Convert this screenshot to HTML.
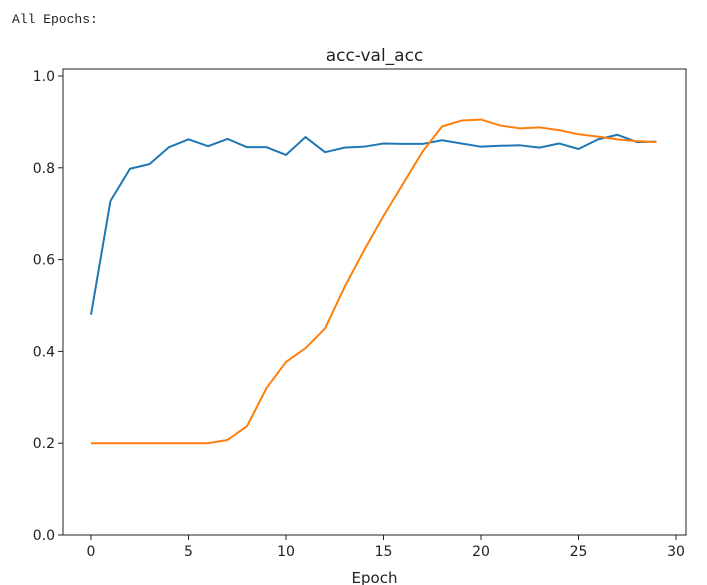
<!DOCTYPE html>
<html><head><meta charset="utf-8"><style>
html,body{margin:0;padding:0;background:#fff;width:707px;height:585px;overflow:hidden}
#hdr{position:absolute;left:12px;top:12px;font:13px "Liberation Mono",monospace;color:#222}
svg{position:absolute;left:0;top:0}
text{font-family:"DejaVu Sans","Liberation Sans",sans-serif;fill:#222}
</style></head><body>
<div id="hdr">All Epochs:</div>
<svg id="c" width="707" height="585"></svg>
<script>
const epochs=[0,1,2,3,4,5,6,7,8,9,10,11,12,13,14,15,16,17,18,19,20,21,22,23,24,25,26,27,28,29];
const accValues=[0.48,0.728,0.798,0.808,0.845,0.862,0.847,0.863,0.845,0.845,0.828,0.867,0.834,0.844,0.846,0.853,0.852,0.852,0.86,0.853,0.846,0.848,0.849,0.844,0.853,0.841,0.862,0.872,0.856,0.857];
const valAccValues=[0.2,0.2,0.2,0.2,0.2,0.2,0.2,0.207,0.237,0.32,0.377,0.407,0.45,0.54,0.62,0.695,0.765,0.835,0.89,0.903,0.905,0.892,0.886,0.888,0.882,0.873,0.868,0.862,0.858,0.856];
const xTicks=[0,5,10,15,20,25,30];
const yTicks=[0.0,0.2,0.4,0.6,0.8,1.0];
const NS="http://www.w3.org/2000/svg";
const svg=document.getElementById('c');
const L=63,R=686,T=69,B=535;
const X=v=>91+v*19.5;
const Y=v=>535-v*459;
function el(t,a){const e=document.createElementNS(NS,t);for(const k in a)e.setAttribute(k,a[k]);svg.appendChild(e);return e;}
let t=el('text',{x:(L+R)/2,y:61,'text-anchor':'middle','font-size':17});t.textContent='acc-val_acc';


xTicks.forEach(v=>{
 let l=el('line',{x1:X(v),x2:X(v),y1:B,y2:B+5,stroke:'#222','stroke-width':1});
 
 
 let tx=el('text',{x:X(v),y:B+21,'text-anchor':'middle','font-size':14});tx.textContent=v;
 
 
});
yTicks.forEach(v=>{
 let l=el('line',{x1:L-5,x2:L,y1:Y(v),y2:Y(v),stroke:'#222','stroke-width':1});
 
 
 let tx=el('text',{x:L-8,y:Y(v)+5,'text-anchor':'end','font-size':14});tx.textContent=v.toFixed(1);
 
 
});
let xl=el('text',{x:(L+R)/2,y:583,'text-anchor':'middle','font-size':15});xl.textContent='Epoch';


function series(vals,color,name){
 const p=el('polyline',{points:vals.map((v,i)=>X(epochs[i])+','+Y(v)).join(' '),fill:'none',stroke:color,'stroke-width':2,'stroke-linejoin':'round'});
 
 
}
series(accValues,'#1f77b4','acc-line');
series(valAccValues,'#ff7f0e','val-acc-line');
let f=el('rect',{x:L,y:T,width:R-L,height:B-T,fill:'none',stroke:'#222','stroke-width':1});


</script>
</body></html>
